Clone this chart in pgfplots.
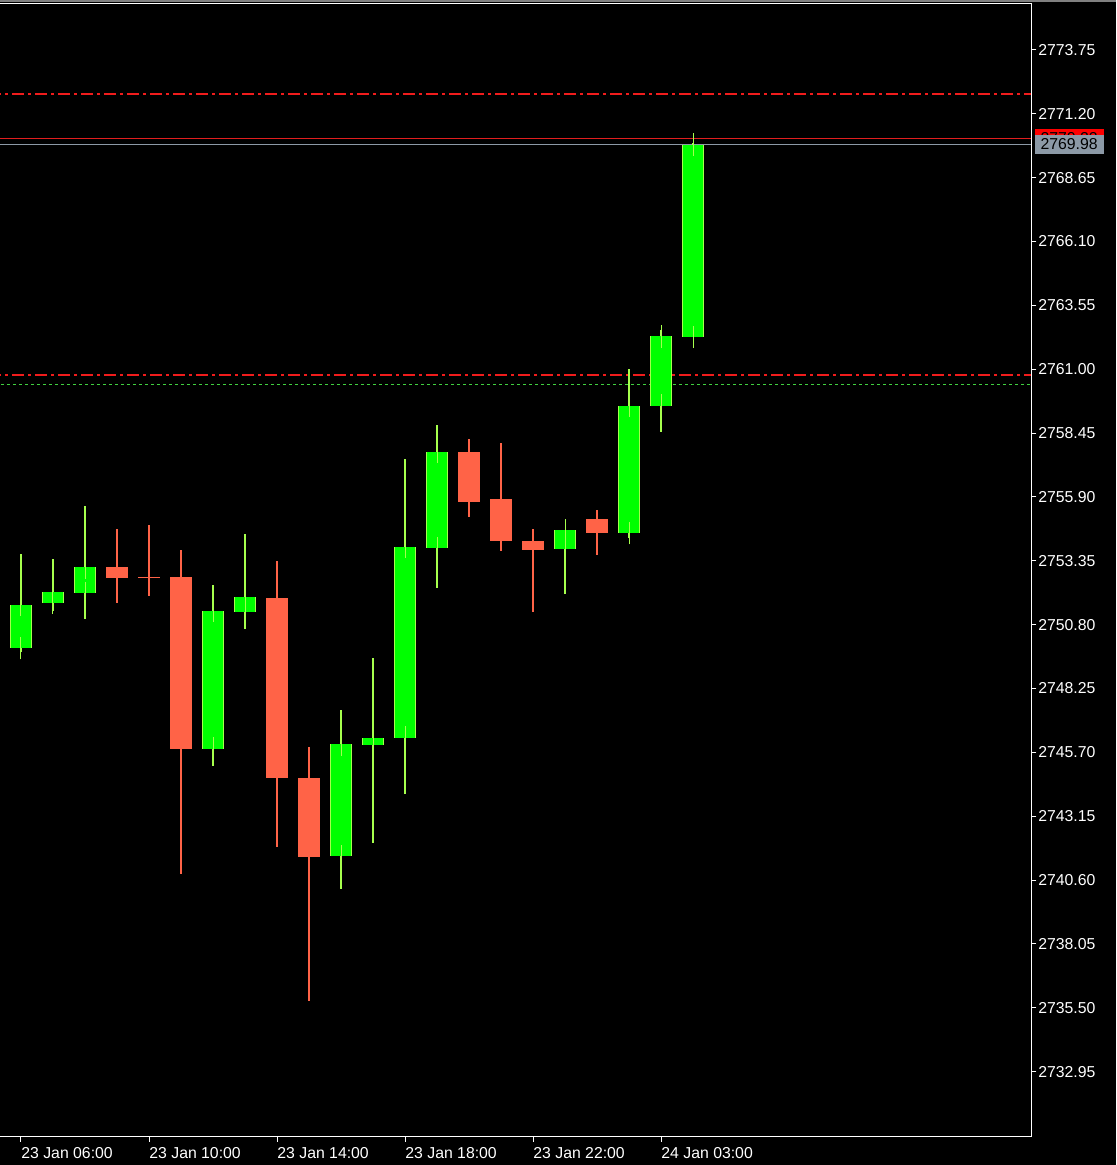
\documentclass[border=0pt]{standalone}
\usepackage{fontspec}
\setmainfont{Liberation Sans}
\usepackage{pgfplots}
\usepackage{pgfplotstable}
\pgfplotsset{compat=1.18}

\definecolor{bull}{HTML}{00FF00}
\definecolor{bulledge}{HTML}{A6FF4D}
\definecolor{bear}{HTML}{FF6347}
\definecolor{bidgray}{HTML}{8C99A6}
\definecolor{lvlred}{HTML}{F01C1C}
\definecolor{askred}{HTML}{E01E1E}
\definecolor{lvlgreen}{HTML}{40D040}

% hourly candles, i = 0 is 23 Jan 06:00
\pgfplotstableread{
i  open    high    low     close
0  2749.88 2753.61 2749.72 2751.61
1  2751.68 2753.42 2751.36 2752.10
2  2752.08 2755.54 2751.03 2753.10
6  2745.85 2752.37 2745.16 2751.35
7  2751.32 2754.43 2750.63 2751.89
10 2741.57 2747.39 2740.26 2746.02
11 2746.01 2749.46 2742.09 2746.27
12 2746.29 2757.43 2744.04 2753.90
13 2753.87 2758.77 2752.28 2757.70
17 2753.85 2754.57 2752.02 2754.57
19 2754.47 2761.01 2754.25 2759.56
20 2759.55 2762.60 2758.51 2762.32
21 2762.30 2770.06 2762.30 2769.98
}\upcandles

\pgfplotstableread{
i  open    high    low     close
-1 2752.56 2752.56 2749.92 2749.92
3  2753.10 2754.62 2751.65 2752.68
4  2752.71 2754.79 2751.97 2752.67
5  2752.70 2753.78 2740.87 2745.85
8  2751.87 2753.34 2741.93 2744.69
9  2744.69 2745.93 2735.78 2741.53
14 2757.70 2758.21 2755.09 2755.71
15 2755.82 2758.09 2753.75 2754.15
16 2754.14 2754.62 2751.32 2753.79
18 2755.02 2755.38 2753.58 2754.47
}\downcandles

\pgfplotsset{
  candle/.style n args={2}{color=#1, mark=none, draw opacity=0, forget plot,
    error bars/.cd, y dir=both, y explicit, error mark=none,
    error bar style={color=#1, draw opacity=1, line width=#2}},
  level/.style={draw=#1, color=#1, line width=0.6pt, forget plot},
}

\begin{document}
\begin{tikzpicture}
\fill[black] (0,0) rectangle (558pt,582.5pt);
\fill[gray] (0,581.7pt) rectangle (558pt,582.5pt);
\useasboundingbox (0,0) rectangle (558pt,582.5pt);
\begin{axis}[
  at={(0pt,14.15pt)}, anchor=south west,
  width=515.65pt, height=566.7pt, scale only axis,
  xmin=-0.656, xmax=31.57,
  ymin=2730.35, ymax=2775.615,
  clip mode=individual,
  axis line style={draw=none},
  xtick pos=bottom, ytick pos=right, yticklabel pos=right,
  tick align=outside, major tick length=2.5pt,
  tick style={white, line width=0.5pt},
  xtick={0,4,8,12,16,20},
  xticklabels={23 Jan 06:00,23 Jan 10:00,23 Jan 14:00,23 Jan 18:00,23 Jan 22:00,24 Jan 03:00},
  ytick={2732.95,2735.50,2738.05,2740.60,2743.15,2745.70,2748.25,2750.80,2753.35,2755.90,2758.45,2761.00,2763.55,2766.10,2768.65,2771.20,2773.75},
  yticklabels={2732.95,2735.50,2738.05,2740.60,2743.15,2745.70,2748.25,2750.80,2753.35,2755.90,2758.45,2761.00,2763.55,2766.10,2768.65,2771.20,2773.75},
  ticklabel style={font=\fontsize{7.9}{9}\selectfont, text=white, inner sep=0pt},
  xticklabel style={anchor=north west, yshift=-2.5pt},
  yticklabel style={anchor=west, xshift=0.8pt},
]
% price levels
\addplot[level=askred]
  coordinates {(-1,2770.22) (32,2770.22)};
\addplot[level=bidgray]
  coordinates {(-1,2769.98) (32,2769.98)};
\addplot[level=lvlred, line width=0.8pt, dash pattern=on 6pt off 2pt on 1.5pt off 2pt]
  coordinates {(-1,2760.76) (32,2760.76)};
\addplot[level=lvlred, line width=1pt, dash pattern=on 6pt off 2pt on 1.5pt off 2pt]
  coordinates {(-1,2772.00) (32,2772.00)};
\addplot[level=lvlgreen, dash pattern=on 1.5pt off 1.5pt]
  coordinates {(-1,2760.40) (32,2760.40)};

% wicks
\addplot[candle={bulledge}{0.7pt}]
  table[x=i, y expr={(\thisrow{high}+\thisrow{low})/2},
        y error expr={(\thisrow{high}-\thisrow{low})/2}] {\upcandles};
\addplot[candle={bear}{0.7pt}]
  table[x=i, y expr={(\thisrow{high}+\thisrow{low})/2},
        y error expr={(\thisrow{high}-\thisrow{low})/2}] {\downcandles};

% bodies
\addplot[candle={bulledge}{11.3pt}]
  table[x=i, y expr={(\thisrow{open}+\thisrow{close})/2},
        y error expr={(\thisrow{close}-\thisrow{open})/2}] {\upcandles};
\addplot[candle={bull}{10.3pt}, error mark=-,
  error mark options={color=bulledge, draw opacity=1, line width=0.5pt, mark size=5.65pt}]
  table[x=i, y expr={(\thisrow{open}+\thisrow{close})/2},
        y error expr={(\thisrow{close}-\thisrow{open})/2}] {\upcandles};
\addplot[candle={bear}{11.3pt}]
  table[x=i, y expr={(\thisrow{open}+\thisrow{close})/2},
        y error expr={(\thisrow{open}-\thisrow{close})/2}] {\downcandles};

% frame
\draw[white, line width=0.5pt] (rel axis cs:0,1) -- (rel axis cs:1,1) -- (rel axis cs:1,0) -- (rel axis cs:0,0);

% ask / bid labels
\node[fill=red, anchor=west, xshift=1.5pt, minimum width=34.4pt, minimum height=9.3pt,
  inner sep=0pt, text=black, font=\fontsize{7.9}{9}\selectfont]
  at ({rel axis cs:1,0} |- {axis cs:0,2770.22}) {2770.22};
\node[fill=bidgray, anchor=west, xshift=1.5pt, minimum width=34.4pt, minimum height=9.3pt,
  inner sep=0pt, text=black, font=\fontsize{7.9}{9}\selectfont]
  at ({rel axis cs:1,0} |- {axis cs:0,2769.98}) {2769.98};
\end{axis}
\end{tikzpicture}
\end{document}
